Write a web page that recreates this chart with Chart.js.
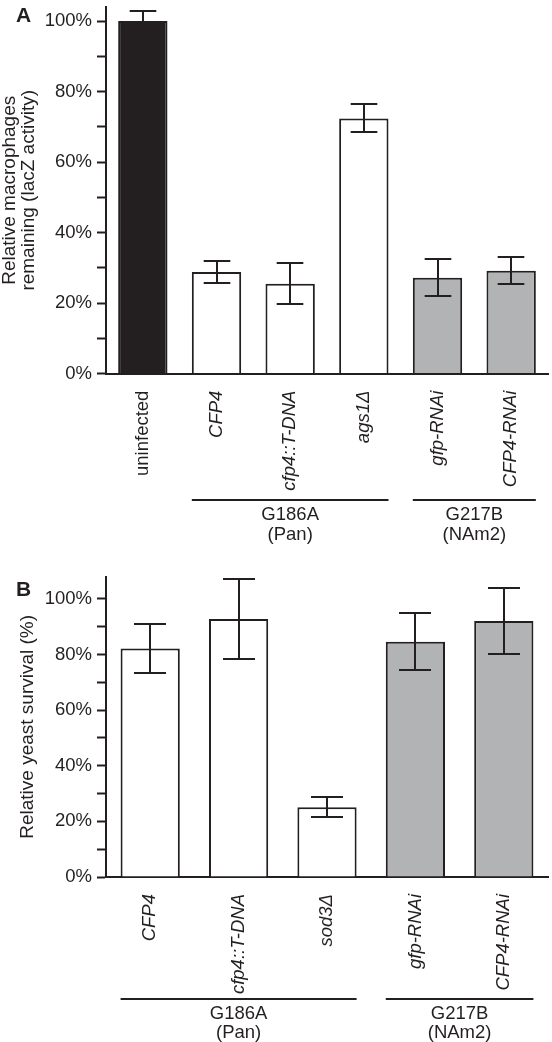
<!DOCTYPE html>
<html><head><meta charset="utf-8">
<script src="https://cdn.jsdelivr.net/npm/chart.js@4.4.1/dist/chart.umd.min.js"></script>
<style>
html,body{margin:0;padding:0;background:#fff;width:552px;height:1042px;overflow:hidden;}
#wa{position:absolute;left:0;top:0;width:552px;height:560px;}
#wb{position:absolute;left:0;top:560px;width:552px;height:482px;}
</style></head><body>
<div id="wa"><canvas id="ca"></canvas></div>
<div id="wb"><canvas id="cb"></canvas></div>
<script>
// ---- Panel A data ----
const categoriesA = ['uninfected', 'CFP4', 'cfp4::T-DNA', 'ags1Δ', 'gfp-RNAi', 'CFP4-RNAi'];
const valuesA = [100, 28.8, 25.5, 72.4, 27.2, 29.2];
const errorsA = [2.8, 3.2, 5.8, 4.0, 5.2, 3.9];
const fillKeysA = ['black', 'white', 'white', 'white', 'gray', 'gray'];
const groupNamesA = ['G186A', 'G217B'];
const groupSubsA = ['(Pan)', '(NAm2)'];
const groupFromA = [1, 4];
const groupToA = [3, 5];
const yTitleA = ['Relative macrophages', 'remaining (lacZ activity)'];

// ---- Panel B data ----
const categoriesB = ['CFP4', 'cfp4::T-DNA', 'sod3Δ', 'gfp-RNAi', 'CFP4-RNAi'];
const valuesB = [82.2, 92.8, 25.1, 84.6, 92.1];
const errorsB = [8.7, 14.4, 3.6, 10.3, 12.0];
const fillKeysB = ['white', 'white', 'white', 'gray', 'gray'];
const groupNamesB = ['G186A', 'G217B'];
const groupSubsB = ['(Pan)', '(NAm2)'];
const groupFromB = [0, 3];
const groupToB = [2, 4];
const yTitleB = 'Relative yeast survival (%)';

// ---- shared y ticks (major ticks labelled, minor ticks unlabelled) ----
const yTickValues = [0, 10, 20, 30, 40, 50, 60, 70, 80, 90, 100];
const yTickLabels = ['0%', '', '20%', '', '40%', '', '60%', '', '80%', '', '100%'];

// ---- styles ----
const ink = '#231f20';
const fills = { black: '#231f20', white: '#ffffff', gray: '#b2b3b5' };
const FAM = "'Liberation Sans', Arial, Helvetica, sans-serif";

function extrasPlugin(errors, gNames, gSubs, gFrom, gTo, letter, L) {
  return {
    id: 'extras',
    afterDatasetsDraw(chart) {
      const ctx = chart.ctx, y = chart.scales.y, meta = chart.getDatasetMeta(0);
      const vals = chart.data.datasets[0].data;
      ctx.save();
      ctx.strokeStyle = ink; ctx.lineWidth = 2; ctx.lineCap = 'butt';
      meta.data.forEach((bar, i) => {
        const top = Math.round(y.getPixelForValue(vals[i] + errors[i]));
        const bot = Math.round(y.getPixelForValue(vals[i] - errors[i]));
        const hw = bar.width * 0.27;
        const x = Math.round(bar.x);
        ctx.beginPath();
        ctx.moveTo(x, top); ctx.lineTo(x, bot);
        ctx.moveTo(x - hw, top); ctx.lineTo(x + hw, top);
        ctx.moveTo(x - hw, bot); ctx.lineTo(x + hw, bot);
        ctx.stroke();
      });
      ctx.restore();
    },
    afterDraw(chart) {
      const ctx = chart.ctx, meta = chart.getDatasetMeta(0), b = chart.chartArea.bottom;
      ctx.save();
      ctx.strokeStyle = ink; ctx.fillStyle = ink; ctx.lineWidth = 2;
      ctx.font = '18.5px ' + FAM; ctx.textAlign = 'center'; ctx.textBaseline = 'middle';
      gNames.forEach((name, g) => {
        const a = meta.data[gFrom[g]], z = meta.data[gTo[g]];
        const left = a.x - a.width / 2, right = z.x + z.width / 2;
        const ly = Math.round(b + L.line);
        ctx.beginPath(); ctx.moveTo(left, ly); ctx.lineTo(right, ly); ctx.stroke();
        const mid = (left + right) / 2;
        ctx.fillText(name, mid, b + L.t1);
        ctx.fillText(gSubs[g], mid, b + L.t2);
      });
      ctx.font = 'bold 21px ' + FAM; ctx.textAlign = 'left'; ctx.textBaseline = 'alphabetic';
      ctx.fillText(letter, L.lx, L.ly);
      ctx.restore();
    }
  };
}

function makeChart(id, cats, vals, keys, yMax, yTitle, titlePad, topPad, xHeight, italicFirst, plugin) {
  return new Chart(document.getElementById(id), {
    type: 'bar',
    data: {
      labels: cats,
      datasets: [{
        data: vals,
        backgroundColor: keys.map(k => fills[k]),
        borderColor: ink,
        borderWidth: 2,
        barPercentage: 0.67,
        categoryPercentage: 1
      }]
    },
    options: {
      responsive: true, maintainAspectRatio: false, animation: false,
      layout: { padding: { left: 0, right: 4, top: topPad, bottom: 0 } },
      plugins: { legend: { display: false }, tooltip: { enabled: false } },
      scales: {
        x: {
          type: 'category', offset: true,
          afterFit(s) { s.height = xHeight; s.paddingLeft = 0; s.paddingRight = 0; },
          grid: { display: true, drawOnChartArea: false, drawTicks: false },
          border: { display: true, color: ink, width: 2 },
          ticks: {
            autoSkip: false, maxRotation: 90, minRotation: 90, padding: 17, color: ink,
            font: (c) => ({ family: FAM, size: 18.5, style: (c.index === 0 && !italicFirst) ? 'normal' : 'italic' })
          }
        },
        y: {
          min: 0, max: yMax,
          afterFit(s) { s.width = 106; s.paddingTop = 0; s.paddingBottom = 0; },
          afterBuildTicks(s) { s.ticks = yTickValues.map(v => ({ value: v })); },
          ticks: {
            autoSkip: false, padding: 5, color: ink,
            font: { family: FAM, size: 18.5 },
            callback: (v, i) => yTickLabels[i]
          },
          grid: { display: true, drawOnChartArea: false, drawTicks: true, tickLength: 9, tickWidth: 2, tickColor: ink, color: ink },
          border: { display: true, color: ink, width: 2 },
          title: { display: true, text: yTitle, color: ink, font: { family: FAM, size: 19, lineHeight: 1.0 }, padding: { top: titlePad, bottom: 0 } }
        }
      }
    },
    plugins: [plugin]
  });
}

makeChart('ca', categoriesA, valuesA, fillKeysA, 104, yTitleA, 0, 7, 186.4, false,
  extrasPlugin(errorsA, groupNamesA, groupSubsA, groupFromA, groupToA, 'A',
    { line: 126.4, t1: 141.4, t2: 161, lx: 16, ly: 22 }));

makeChart('cb', categoriesB, valuesB, fillKeysB, 108, yTitleB, 18, 16.7, 165, true,
  extrasPlugin(errorsB, groupNamesB, groupSubsB, groupFromB, groupToB, 'B',
    { line: 122, t1: 137, t2: 156, lx: 16, ly: 36 }));
</script>
</body></html>
